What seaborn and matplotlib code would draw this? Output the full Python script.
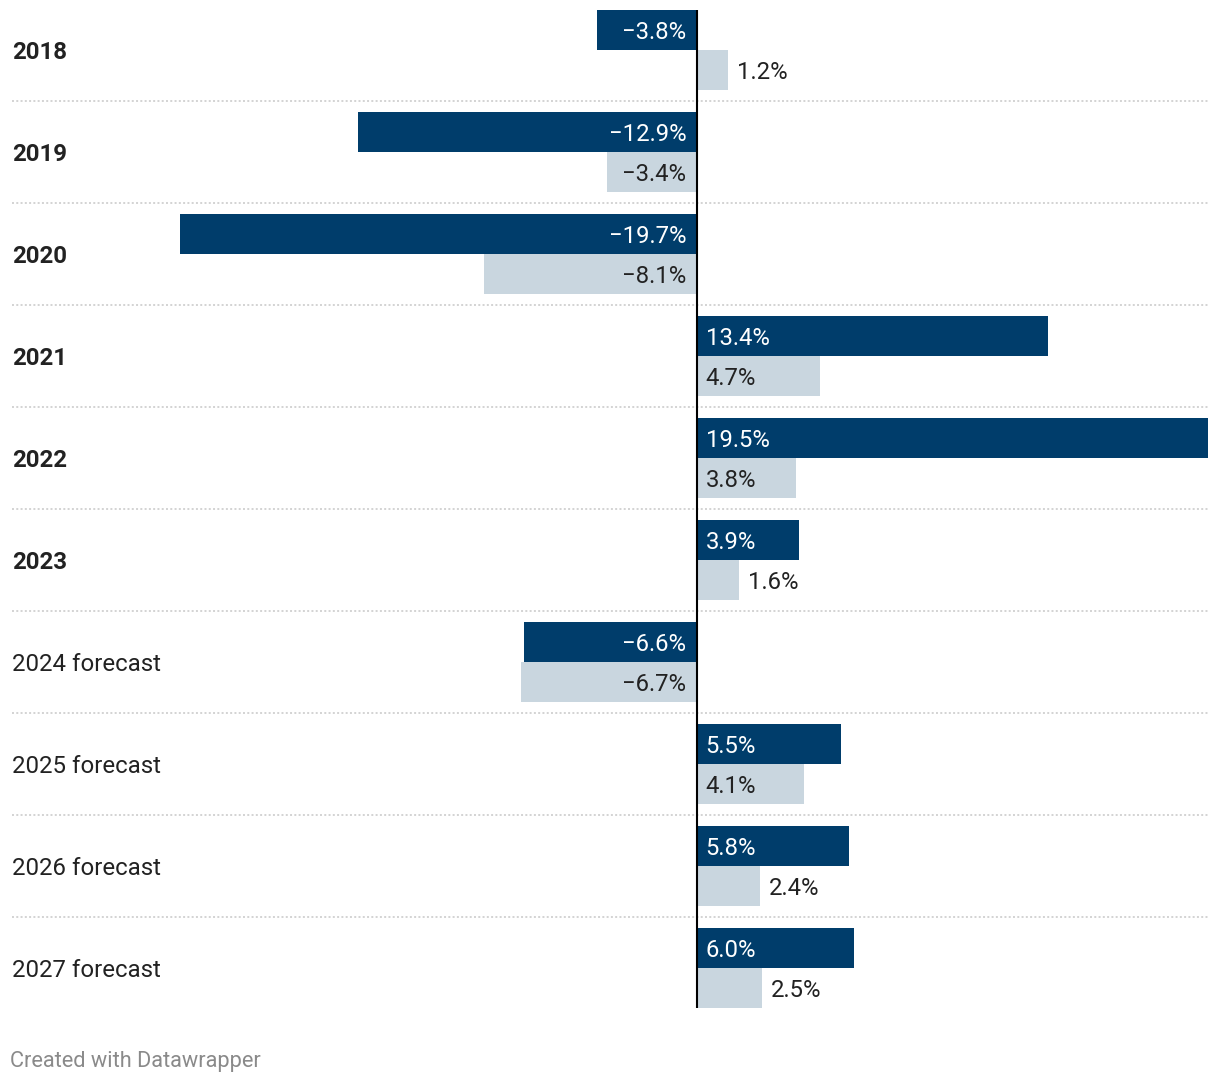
#!/usr/bin/env python3

import pandas
import seaborn as sns
import matplotlib.pyplot as plt
from matplotlib.transforms import blended_transform_factory

# Chart values
categories = ["2018", "2019", "2020", "2021", "2022", "2023",
              "2024 forecast", "2025 forecast", "2026 forecast", "2027 forecast"]
bold_rows = ["2018", "2019", "2020", "2021", "2022", "2023"]
series_names = ["dark", "light"]
dark_values = [-3.8, -12.9, -19.7, 13.4, 19.5, 3.9, -6.6, 5.5, 5.8, 6.0]
light_values = [1.2, -3.4, -8.1, 4.7, 3.8, 1.6, -6.7, 4.1, 2.4, 2.5]

DARK = "#003d6b"
LIGHT = "#c9d6df"
TEXT = "#222222"


def fmt(v):
    s = f"{abs(v):.1f}%"
    return ("\u2212" + s) if v < 0 else s


def main():
    rows = []
    for cat, d, l in zip(categories, dark_values, light_values):
        rows.append([cat, series_names[0], d])
        rows.append([cat, series_names[1], l])
    df = pandas.DataFrame(rows, columns=["category", "series", "value"])

    sns.set_style("white")
    plt.rcParams["font.family"] = ["Roboto", "DejaVu Sans"]

    W, H = 1220, 1084
    fig = plt.figure(figsize=(W / 100, H / 100), dpi=100)
    ax = fig.add_axes([180 / W, (H - 1019) / H, 1028 / W, 1020 / H])

    sns.barplot(
        data=df, x="value", y="category", hue="series", order=categories,
        hue_order=series_names, palette=[DARK, LIGHT], orient="h",
        width=80 / 102, saturation=1, legend=False, linewidth=0, ax=ax,
    )
    ax.set_xlim(min(dark_values), max(dark_values))
    ax.set_ylim(len(categories) - 0.5, -0.5)
    ax.set_xlabel("")
    ax.set_ylabel("")
    ax.set_xticks([])
    ax.set_yticks([])
    sns.despine(ax=ax, left=True, bottom=True)

    trans = blended_transform_factory(ax.transAxes, ax.transData)
    left_x = (12 - 180) / 1028

    # dotted separators between rows
    for i in range(len(categories) - 1):
        ax.plot([left_x, 1.0], [i + 0.5, i + 0.5], transform=trans,
                color="#c8c8c8", lw=1.1, ls=(0, (1.3, 1.5)), clip_on=False)

    # row labels
    for i, cat in enumerate(categories):
        ax.annotate(cat, (left_x, i), xycoords=trans, xytext=(0, -1.5),
                    textcoords="offset points", ha="left", va="center",
                    fontsize=17.3, color=TEXT,
                    fontweight="bold" if cat in bold_rows else "normal")

    # value labels
    for k, container in enumerate(ax.containers):
        for patch in container.patches:
            v = patch.get_x() + patch.get_width() if patch.get_x() < 0 else patch.get_width()
            yc = patch.get_y() + patch.get_height() / 2
            color = "white" if k == 0 else TEXT
            if v < 0:
                ax.annotate(fmt(v), (0, yc), xytext=(-7.5, -1.5), textcoords="offset points",
                            ha="right", va="center", fontsize=17.2, color=color)
            elif v >= 3 or k == 0:
                ax.annotate(fmt(v), (0, yc), xytext=(6.5, -1.5), textcoords="offset points",
                            ha="left", va="center", fontsize=17.2, color=color)
            else:
                ax.annotate(fmt(v), (v, yc), xytext=(6.5, -1.5), textcoords="offset points",
                            ha="left", va="center", fontsize=17.2, color=TEXT)

    # zero line
    ax.vlines(0, -0.392, len(categories) - 1 + 0.392, color="black", lw=1.5, clip_on=False)

    fig.text(10 / W, 1 - 1061 / H, "Created with Datawrapper", ha="left", va="center",
             fontsize=15.7, color="#8a8a8a")

    fig.savefig("out.png", dpi=100)


if __name__ == "__main__":
    main()
